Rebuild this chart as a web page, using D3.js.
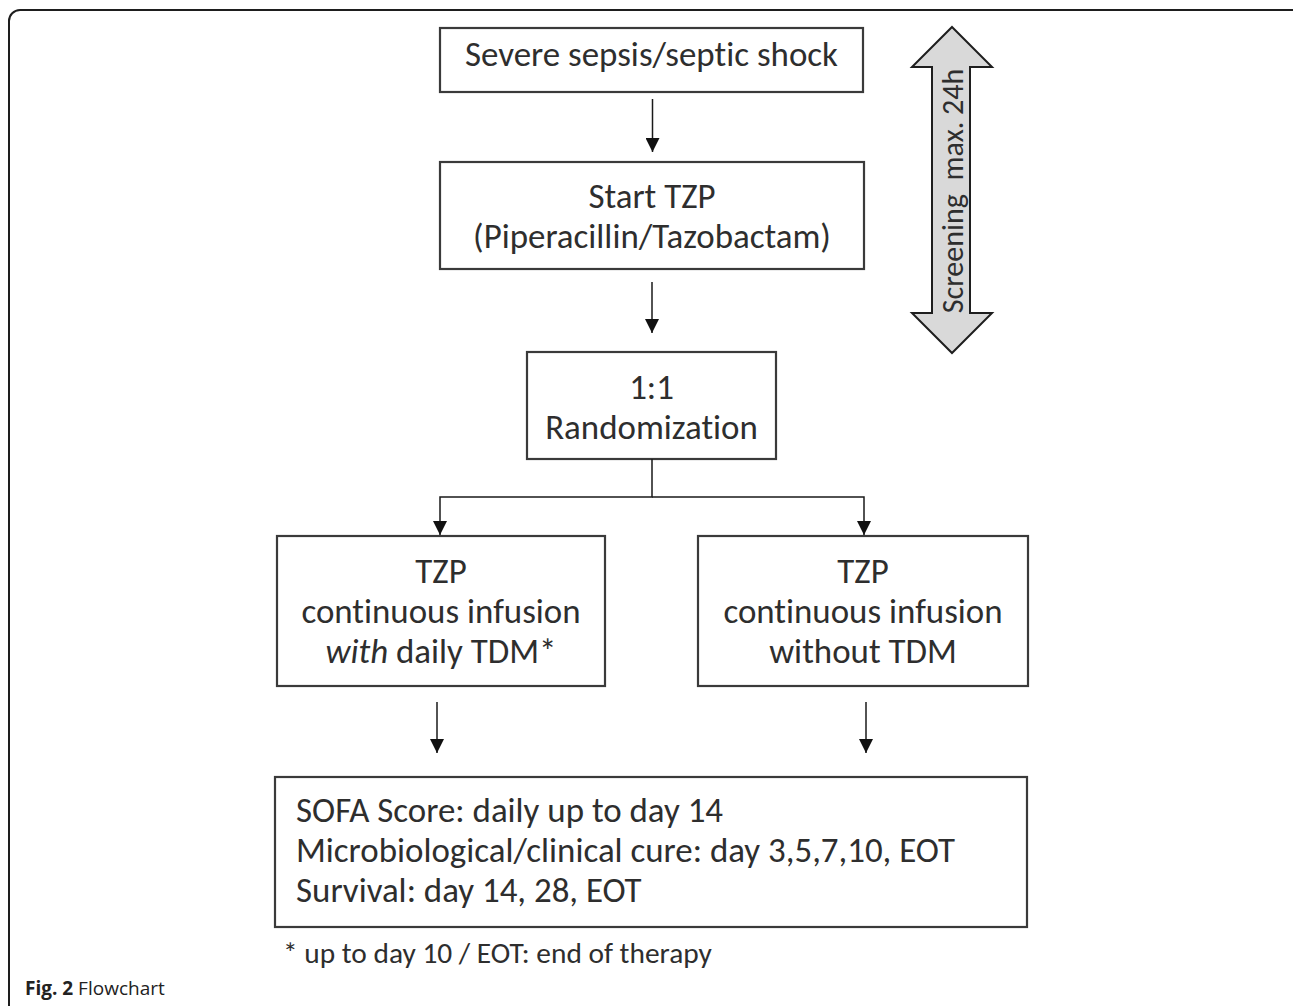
<!DOCTYPE html>
<html>
<head>
<meta charset="utf-8">
<script src="https://cdn.jsdelivr.net/npm/d3@7"></script>
<style>
  body { margin: 0; background: #fff; }
  svg { display: block; }
  .box { fill: #fff; stroke: #3a3a3a; stroke-width: 2.2; }
  .label { fill: #2e2e2e; font-family: Carlito, "Open Sans", Lato, sans-serif; font-variant-ligatures: none; }
  .link { fill: none; stroke: #1a1a1a; stroke-width: 1.5; }
</style>
</head>
<body>
<div id="chart-container"></div>
<script>
// flowchart content
const boxIds = ["sepsis", "start", "random", "withTdm", "withoutTdm", "outcomes"];
const boxLines = [
  ["Severe sepsis/septic shock"],
  ["Start TZP", "(Piperacillin/Tazobactam)"],
  ["1:1", "Randomization"],
  ["TZP", "continuous infusion", "<i>with</i> daily TDM*"],
  ["TZP", "continuous infusion", "without TDM"],
  ["SOFA Score: daily up to day 14", "Microbiological/clinical cure: day 3,5,7,10, EOT", "Survival: day 14, 28, EOT"]
];
const sideLabel = "Screening  max. 24h";
const footnote = "* up to day 10 / EOT: end of therapy";
const captionBold = "Fig. 2";
const captionText = " Flowchart";

const width = 1293;
const height = 1006;

// layout (pixel boxes)
const layout = {
  sepsis:     { x: 440, y: 28,  w: 423, h: 64,  align: "middle", first: 66 },
  start:      { x: 440, y: 162, w: 424, h: 107, align: "middle", first: 208 },
  random:     { x: 527, y: 352, w: 249, h: 107, align: "middle", first: 399 },
  withTdm:    { x: 277, y: 536, w: 328, h: 150, align: "middle", first: 583 },
  withoutTdm: { x: 698, y: 536, w: 330, h: 150, align: "middle", first: 583 },
  outcomes:   { x: 275, y: 777, w: 752, h: 150, align: "start",  first: 822 }
};
const lineGap = 40;

const svg = d3
  .select("#chart-container")
  .append("svg")
  .attr("width", width)
  .attr("height", height);

svg.append("defs")
  .append("marker")
  .attr("id", "head")
  .attr("viewBox", "0 0 10 10")
  .attr("refX", 10)
  .attr("refY", 5)
  .attr("markerUnits", "userSpaceOnUse")
  .attr("markerWidth", 14)
  .attr("markerHeight", 14)
  .attr("orient", "auto")
  .append("path")
  .attr("d", "M0,0L10,5L0,10Z")
  .attr("fill", "#111");

// outer frame
svg.append("rect")
  .attr("x", 9)
  .attr("y", 10)
  .attr("width", 1300)
  .attr("height", 1100)
  .attr("rx", 11)
  .attr("fill", "none")
  .attr("stroke", "#1e1e1e")
  .attr("stroke-width", 2);

// pick a font size so a string spans the given width
const fitSize = (str, target, base) => {
  const probe = svg.append("text").attr("class", "label").attr("font-size", base).text(str);
  const w = probe.node().getComputedTextLength();
  probe.remove();
  return base * target / w;
};
const fontSize = fitSize(boxLines[0][0], 373, 30);

const nodes = boxIds.map((id, i) => ({ id, lines: boxLines[i], ...layout[id] }));

const g = svg.selectAll("g.node")
  .data(nodes)
  .enter()
  .append("g")
  .attr("class", "node");

g.append("rect")
  .attr("class", "box")
  .attr("x", d => d.x)
  .attr("y", d => d.y)
  .attr("width", d => d.w)
  .attr("height", d => d.h);

g.each(function (d) {
  const sel = d3.select(this);
  d.lines.forEach((line, i) => {
    const t = sel.append("text")
      .attr("class", "label")
      .attr("font-size", fontSize)
      .attr("text-anchor", d.align)
      .attr("x", d.align === "middle" ? d.x + d.w / 2 : d.x + 21)
      .attr("y", d.first + i * lineGap);
    const m = line.match(/^<i>(.*?)<\/i>(.*)$/);
    if (m) {
      t.append("tspan").attr("font-style", "italic").text(m[1]);
      t.append("tspan").text(m[2]);
    } else {
      t.text(line);
    }
  });
});

// arrows
const byId = id => layout[id];
const cx = b => b.x + b.w / 2;
const links = [
  [[cx(byId("sepsis")) + 1, 99], [cx(byId("sepsis")) + 1, 152]],
  [[cx(byId("start")), 282], [cx(byId("start")), 333]],
  [[652, 459], [652, 497], [440, 497], [440, 535]],
  [[652, 497], [864, 497], [864, 535]],
  [[437, 702], [437, 753]],
  [[866, 702], [866, 753]]
];

svg.selectAll("path.link")
  .data(links)
  .enter()
  .append("path")
  .attr("class", "link")
  .attr("d", d => d3.line()(d))
  .attr("marker-end", "url(#head)");

// double arrow on the right
const arrow = [
  [952, 27], [992, 67], [970, 67], [970, 313], [992, 313],
  [952, 353], [912, 313], [932, 313], [932, 67], [912, 67]
];
svg.append("path")
  .attr("d", d3.line()(arrow) + "Z")
  .attr("fill", "#d9d9d9")
  .attr("stroke", "#1e1e1e")
  .attr("stroke-width", 2)
  .attr("stroke-linejoin", "miter");

svg.append("text")
  .attr("class", "label")
  .attr("font-size", fitSize(sideLabel, 238, 24))
  .attr("text-anchor", "middle")
  .attr("transform", "translate(963,191) rotate(-90)")
  .style("white-space", "pre")
  .text(sideLabel);

svg.append("text")
  .attr("class", "label")
  .attr("font-size", fitSize(footnote, 429, 24))
  .attr("x", 283)
  .attr("y", 963)
  .text(footnote);

const cap = svg.append("text")
  .attr("x", 25)
  .attr("y", 995)
  .attr("font-family", "'Open Sans', sans-serif")
  .attr("font-size", 19)
  .attr("fill", "#222")
  .style("white-space", "pre");
cap.append("tspan").attr("font-weight", "bold").text(captionBold);
cap.append("tspan").text(captionText);
</script>
</body>
</html>
